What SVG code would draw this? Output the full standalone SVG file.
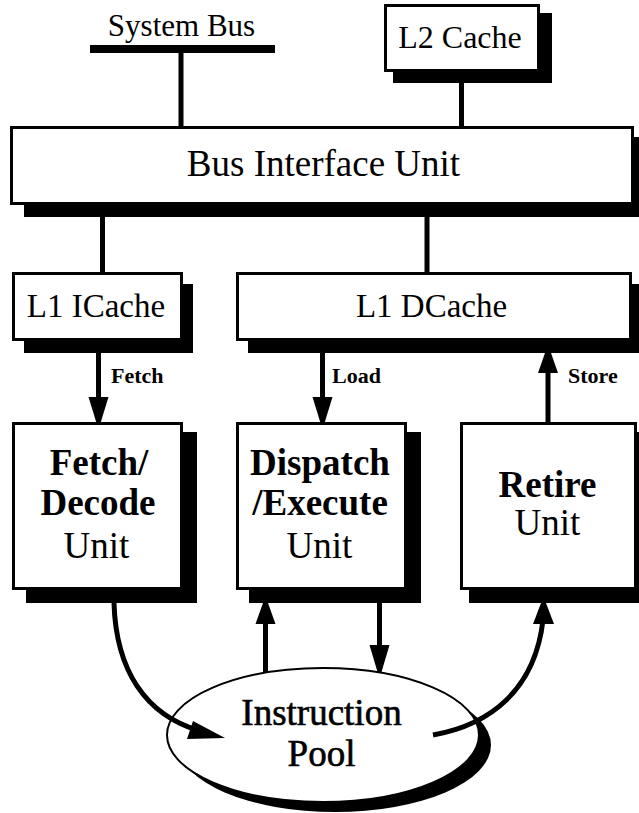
<svg xmlns="http://www.w3.org/2000/svg" width="639" height="813" viewBox="0 0 639 813">
<style>
  .box { fill: #fff; stroke: #000; stroke-width: 3; }
  .shadow { fill: #000; stroke: none; }
  .line { stroke: #000; stroke-width: 5; fill: none; }
  .curve { stroke: #000; stroke-width: 5; fill: none; }
  .head { fill: #000; stroke: none; }
</style>
<rect width="639" height="813" fill="#fff"/>

<g id="system-bus">
  <rect x="90" y="45" width="185" height="8" fill="#000"/>
  <text font-family="Liberation Serif" x="181.5" y="36" font-size="31" text-anchor="middle">System Bus</text>
</g>

<g id="l2-cache">
  <rect class="shadow" x="393" y="13" width="159" height="70"/>
  <rect class="box" x="385.5" y="5.5" width="153" height="65"/>
  <text font-family="Liberation Serif" x="460" y="48" font-size="32" text-anchor="middle">L2 Cache</text>
</g>

<g id="bus-interface-unit">
  <rect class="shadow" x="24" y="137" width="620" height="80"/>
  <rect class="box" x="11.5" y="127.5" width="621" height="76"/>
  <text font-family="Liberation Serif" x="323.5" y="176" font-size="37" text-anchor="middle">Bus Interface Unit</text>
</g>

<g id="l1-icache">
  <rect class="shadow" x="24" y="284" width="169" height="69"/>
  <rect class="box" x="13.5" y="273.5" width="168" height="66"/>
  <text font-family="Liberation Serif" x="96" y="317" font-size="33" text-anchor="middle">L1 ICache</text>
</g>

<g id="l1-dcache">
  <rect class="shadow" x="248" y="284" width="396" height="69"/>
  <rect class="box" x="237.5" y="273.5" width="393" height="66"/>
  <text font-family="Liberation Serif" x="431.5" y="317" font-size="33" text-anchor="middle">L1 DCache</text>
</g>

<g id="fetch-decode-unit">
  <rect class="shadow" x="26" y="432" width="171" height="171"/>
  <rect class="box" x="13.5" y="423.5" width="168" height="165"/>
  <text font-family="Liberation Serif" font-weight="bold" x="99" y="475" font-size="37" text-anchor="middle">Fetch/</text>
  <text font-family="Liberation Serif" font-weight="bold" x="98" y="515" font-size="37" text-anchor="middle">Decode</text>
  <text font-family="Liberation Serif" x="96.5" y="558" font-size="37" text-anchor="middle">Unit</text>
</g>

<g id="dispatch-execute-unit">
  <rect class="shadow" x="249" y="432" width="172" height="171"/>
  <rect class="box" x="237.5" y="423.5" width="168" height="165"/>
  <text font-family="Liberation Serif" font-weight="bold" x="320" y="475" font-size="37" text-anchor="middle">Dispatch</text>
  <text font-family="Liberation Serif" font-weight="bold" x="320" y="515" font-size="37" text-anchor="middle">/Execute</text>
  <text font-family="Liberation Serif" x="319.5" y="558" font-size="37" text-anchor="middle">Unit</text>
</g>

<g id="retire-unit">
  <rect class="shadow" x="469" y="432" width="176" height="171"/>
  <rect class="box" x="461.5" y="423.5" width="174" height="165"/>
  <text font-family="Liberation Serif" font-weight="bold" x="547.5" y="497" font-size="37" text-anchor="middle">Retire</text>
  <text font-family="Liberation Serif" x="547.5" y="535" font-size="37" text-anchor="middle">Unit</text>
</g>

<g id="instruction-pool">
  <ellipse cx="335" cy="745" rx="156" ry="67" fill="#000"/>
  <ellipse cx="323" cy="735" rx="156" ry="67" fill="#fff" stroke="#000" stroke-width="2"/>
  <text font-family="Liberation Serif" x="321.5" y="725" font-size="37" stroke="#000" stroke-width="0.6" text-anchor="middle">Instruction</text>
  <text font-family="Liberation Serif" x="321.5" y="766" font-size="37" stroke="#000" stroke-width="0.6" text-anchor="middle">Pool</text>
</g>

<g id="connectors">
  <line class="line" x1="181" y1="53" x2="181" y2="127"/>
  <line class="line" x1="461.5" y1="83" x2="461.5" y2="127"/>
  <line class="line" x1="102.5" y1="217" x2="102.5" y2="273"/>
  <line class="line" x1="427" y1="217" x2="427" y2="273"/>
  <line class="line" x1="98.5" y1="353" x2="98.5" y2="400"/>
  <polygon class="head" points="88.5,397 108.5,397 100.5,423 96.5,423"/>
  <text font-family="Liberation Serif" font-weight="bold" font-size="22" x="111" y="383">Fetch</text>
  <line class="line" x1="322.5" y1="353" x2="322.5" y2="400"/>
  <polygon class="head" points="312.5,397 332.5,397 324.5,423 320.5,423"/>
  <text font-family="Liberation Serif" font-weight="bold" font-size="22" x="332" y="383">Load</text>
  <line class="line" x1="548" y1="423" x2="548" y2="370"/>
  <polygon class="head" points="538,373 558,373 551,353 545,353"/>
  <text font-family="Liberation Serif" font-weight="bold" font-size="22" x="568" y="383">Store</text>
  <path class="curve" d="M114,603 C116,670 145,715 200,731"/>
  <polygon class="head" points="193,721 187,739 225,738"/>
  <line class="line" x1="265.5" y1="673" x2="265.5" y2="620"/>
  <polygon class="head" points="255.5,624 275.5,624 268,603 263,603"/>
  <line class="line" x1="379.5" y1="603" x2="379.5" y2="648"/>
  <polygon class="head" points="369.5,645 389.5,645 381.5,672 377.5,672"/>
  <path class="curve" d="M433,735 C490,725 535,690 543,620"/>
  <polygon class="head" points="533,624 554,624 546,603 541,603"/>
</g>
</svg>
